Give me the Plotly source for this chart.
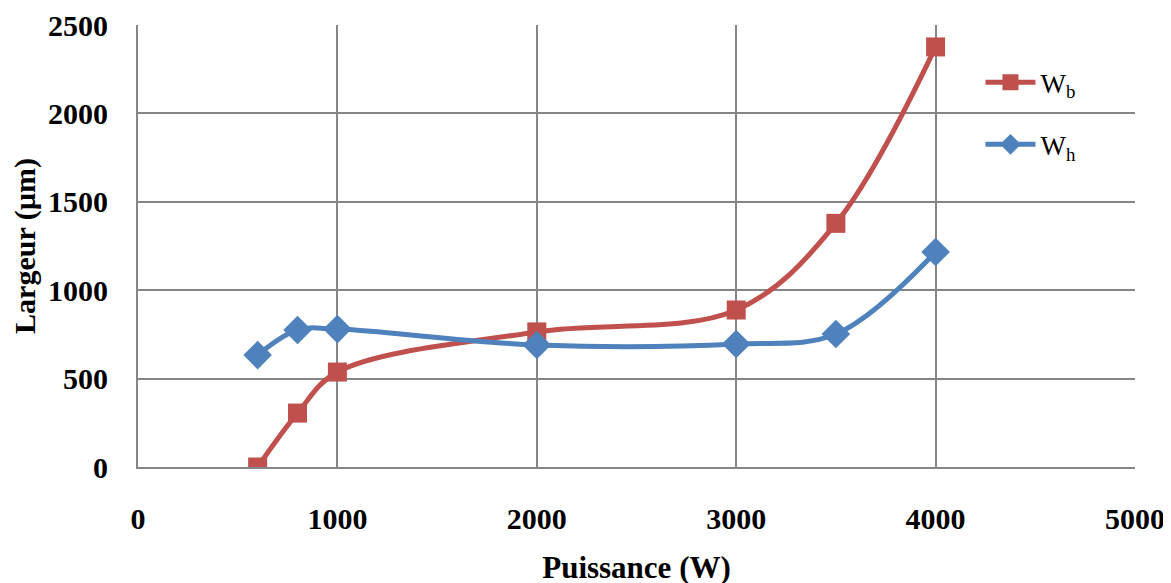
import plotly.graph_objects as go

puissance = [600, 800, 1000, 2000, 3000, 3500, 4000]
w_b = [0, 305, 537, 764, 888, 1378, 2376]
w_h = [633, 775, 780, 690, 696, 752, 1216]

font_serif = "Liberation Serif, Times New Roman, serif"

fig = go.Figure()

fig.add_trace(
    go.Scatter(
        x=puissance,
        y=w_b,
        mode="lines+markers",
        name="W<sub>b</sub>",
        legendgroup="b",
        line=dict(color="#C0504D", width=5, shape="spline", smoothing=1),
        marker=dict(symbol="square", size=19, color="#C0504D")
    )
)

fig.add_trace(
    go.Scatter(
        x=puissance,
        y=w_h,
        mode="lines+markers",
        name="W<sub>h</sub>",
        legendgroup="h",
        line=dict(color="#4F81BD", width=5, shape="spline", smoothing=1),
        marker=dict(symbol="diamond", size=22, color="#4F81BD")
    )
)

# page body adds an 8px offset, margins compensate for it
fig.update_layout(

    width=1171,

    height=583,

    paper_bgcolor="white",

    plot_bgcolor="white",

    font=dict(family=font_serif, color="black"),

    margin=dict(
        l=130,
        r=44,
        t=17,
        b=124
    ),

    legend=dict(
        x=0.845,
        y=0.925,
        xanchor="left",
        yanchor="top",
        font=dict(size=27, family=font_serif),
        bgcolor="rgba(0,0,0,0)",
        itemwidth=50,
        tracegroupgap=24,
        traceorder="grouped"
    )
)

fig.update_xaxes(
    range=[0, 5000],
    dtick=1000,
    automargin=False,
    showgrid=True,
    gridcolor="#868686",
    gridwidth=2,
    showline=True,
    linecolor="#868686",
    linewidth=2,
    zeroline=False,
    ticks="",
    ticklabelstandoff=24,
    tickfont=dict(size=30, family=font_serif, weight="bold"),
    title=dict(text="<b>Puissance (W)</b>", font=dict(size=31), standoff=22)
)

fig.update_yaxes(
    range=[0, 2500],
    dtick=500,
    automargin=False,
    showgrid=True,
    gridcolor="#868686",
    gridwidth=2,
    showline=True,
    linecolor="#868686",
    linewidth=2,
    zeroline=False,
    ticks="",
    ticklabelstandoff=22,
    tickfont=dict(size=30, family=font_serif, weight="bold"),
    title=dict(text="<b>Largeur (µm)</b>", font=dict(size=30), standoff=4)
)

fig.write_html("out.html")
